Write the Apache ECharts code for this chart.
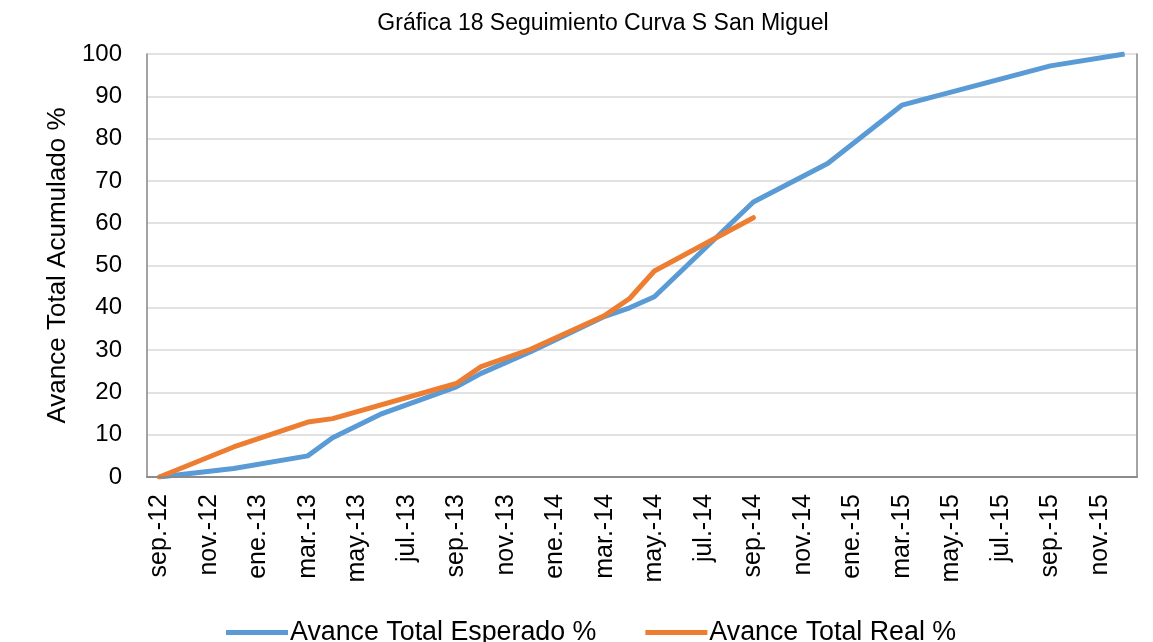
<!DOCTYPE html>
<html>
<head>
<meta charset="utf-8">
<title>Gráfica 18 Seguimiento Curva S San Miguel</title>
<script src="https://cdn.jsdelivr.net/npm/echarts@6/dist/echarts.min.js"></script>
<style>
  html, body { margin: 0; padding: 0; background: #fff; }
  #chart { width: 1153px; height: 642px; }
</style>
</head>
<body>
<div id="chart"></div>
<script>
// months sep-12 .. dic-15 (date axis, one slot per month)
var months = [
  'sep.-12', 'oct.-12', 'nov.-12', 'dic.-12',
  'ene.-13', 'feb.-13', 'mar.-13', 'abr.-13', 'may.-13', 'jun.-13',
  'jul.-13', 'ago.-13', 'sep.-13', 'oct.-13', 'nov.-13', 'dic.-13',
  'ene.-14', 'feb.-14', 'mar.-14', 'abr.-14', 'may.-14', 'jun.-14',
  'jul.-14', 'ago.-14', 'sep.-14', 'oct.-14', 'nov.-14', 'dic.-14',
  'ene.-15', 'feb.-15', 'mar.-15', 'abr.-15', 'may.-15', 'jun.-15',
  'jul.-15', 'ago.-15', 'sep.-15', 'oct.-15', 'nov.-15', 'dic.-15'
];

// values, null where no point is visible
var esperado = [
  0, null, null, 2, null, null, 5, 9.3, null, 15,
  null, null, 21.3, 24.5, null, 29.6, null, null, 38, 40,
  42.6, null, null, null, 65, null, null, 74.1, null, null,
  87.9, null, null, null, null, null, 97.2, null, null, 100
];
var real = [
  0, null, null, 7.1, null, null, 13, 13.8, null, null,
  null, null, 22.1, 26.1, null, 30.2, null, null, 38.2, 42.2,
  48.7, null, null, null, 61.3
];

var yTicks = { min: 0, max: 100, step: 10 };

var FONT = '"Liberation Sans", Arial, sans-serif';
var BLUE = '#5B9BD5';
var ORANGE = '#ED7D31';
var AXIS = '#868686';

var chart = echarts.init(document.getElementById('chart'));

chart.setOption({
  animation: false,
  title: {
    text: 'Gráfica 18 Seguimiento Curva S San Miguel',
    left: 598,
    textAlign: 'center',
    top: 7,
    textStyle: { fontFamily: FONT, fontSize: 23, fontWeight: 'normal', color: '#000' }
  },
  grid: { left: 147, right: 16, top: 54, bottom: 165 },
  legend: {
    left: 221,
    top: 614,
    itemWidth: 62,
    itemHeight: 5,
    itemGap: 49,
    textStyle: { fontFamily: FONT, fontSize: 26.8, color: '#000', padding: [0, 0, 0, -3] },
    data: [
      { name: 'Avance Total Esperado %', icon: 'rect', itemStyle: { color: BLUE } },
      { name: 'Avance Total Real %', icon: 'rect', itemStyle: { color: ORANGE } }
    ]
  },
  xAxis: [{
    type: 'category',
    data: months,
    boundaryGap: true,
    axisLine: { lineStyle: { color: AXIS, width: 1.5 } },
    axisTick: { interval: 1, length: 8, lineStyle: { color: AXIS, width: 1.5 } },
    axisLabel: {
      interval: 1,
      rotate: 90,
      margin: 17,
      fontFamily: FONT,
      fontSize: 25,
      color: '#000'
    },
    splitLine: { show: false }
  }, {
    type: 'category',
    data: months,
    position: 'top',
    z: 5,
    axisLine: { lineStyle: { color: AXIS, width: 1.5 } },
    axisTick: { show: false },
    axisLabel: { show: false }
  }],
  yAxis: [{
    type: 'value',
    min: yTicks.min,
    max: yTicks.max,
    interval: yTicks.step,
    name: 'Avance Total Acumulado %',
    nameLocation: 'middle',
    nameGap: 72,
    nameTextStyle: { fontFamily: FONT, fontSize: 26, color: '#000' },
    axisLine: { show: true, lineStyle: { color: AXIS, width: 1.5 } },
    axisTick: { show: false },
    axisLabel: { margin: 25, fontFamily: FONT, fontSize: 24, color: '#000' },
    splitLine: { lineStyle: { color: '#d9d9d9', width: 1.5 } }
  }, {
    type: 'value',
    min: yTicks.min,
    max: yTicks.max,
    interval: yTicks.step,
    position: 'right',
    z: 5,
    axisLine: { show: true, lineStyle: { color: AXIS, width: 1.5 } },
    axisTick: { show: false },
    axisLabel: { show: false },
    splitLine: { show: false }
  }],
  series: [{
    name: 'Avance Total Esperado %',
    type: 'line',
    data: esperado,
    connectNulls: true,
    symbol: 'none',
    z: 2,
    lineStyle: { color: BLUE, width: 5, join: 'round' },
    itemStyle: { color: BLUE }
  }, {
    name: 'Avance Total Real %',
    type: 'line',
    data: real,
    connectNulls: true,
    symbol: 'none',
    z: 3,
    lineStyle: { color: ORANGE, width: 5, join: 'round', cap: 'round' },
    itemStyle: { color: ORANGE }
  }]
});
</script>
</body>
</html>
